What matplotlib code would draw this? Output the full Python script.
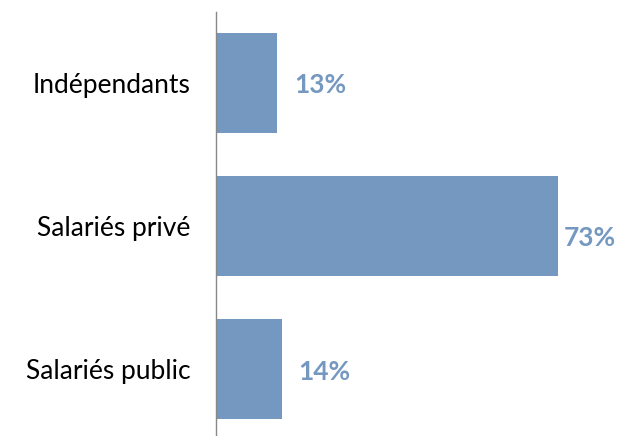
import matplotlib
matplotlib.use("Agg")
import matplotlib.pyplot as plt

categories = ["Indépendants", "Salariés privé", "Salariés public"]
values = [13, 73, 14]
value_labels = ["13%", "73%", "14%"]

bar_color = "#7598C1"
# offsets in points (1 pt = 1.389 px at 100 dpi)
label_offsets = [(12.2, -1.4), (3.6, -8.6), (12.2, -2.2)]

plt.rcParams['font.family'] = ['Lato', 'DejaVu Sans']

fig = plt.figure(figsize=(6.17, 4.36), dpi=100)
W, H = 617, 436
ax = fig.add_axes([216 / W, 0, (80 * 4.69) / W, 424 / H])

ypos = list(range(len(categories)))
ax.barh(ypos, values, height=0.7, color=bar_color)
ax.set_xlim(0, 80)
ax.set_ylim(2.469, -0.497)

for y, v, lab, off in zip(ypos, values, value_labels, label_offsets):
    ax.annotate(lab, xy=(v, y), xytext=off, textcoords="offset points",
                ha="left", va="center", fontsize=19, fontweight="bold",
                color=bar_color)

ax.set_yticks(ypos)
ax.set_yticklabels(categories, fontsize=19, color="#000000")
ax.tick_params(axis="y", length=0, pad=18.5)
ax.set_xticks([])
for s in ["top", "right", "bottom"]:
    ax.spines[s].set_visible(False)
ax.spines["left"].set_color("#888888")
ax.spines["left"].set_linewidth(1.0)

fig.savefig("out.png", dpi=100)
